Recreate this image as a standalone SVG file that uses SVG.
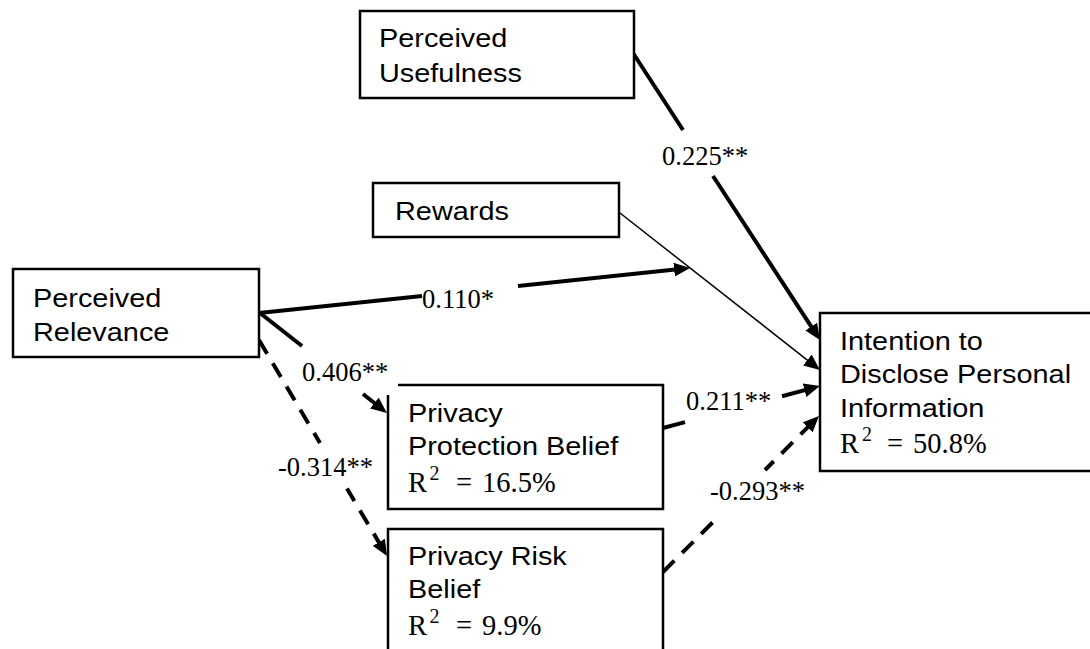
<svg xmlns="http://www.w3.org/2000/svg" width="1090" height="649" viewBox="0 0 1090 649">
  <style>
    .box { fill: #fff; stroke: #000; stroke-width: 2.5; }
    .lbl { font-family: "Liberation Sans", Arial, sans-serif; font-size: 26.5px; fill: #000; }
    .num { font-family: "Liberation Serif", "Times New Roman", serif; font-size: 26.5px; fill: #000; }
    .eq { font-family: "Liberation Serif", "Times New Roman", serif; font-size: 28.5px; fill: #000; }
    .sup { font-family: "Liberation Serif", "Times New Roman", serif; font-size: 20px; fill: #000; }
    .thick { fill: none; stroke: #000; stroke-width: 4; }
    .thin { fill: none; stroke: #000; stroke-width: 1.5; }
    .dash { stroke-dasharray: 16 11; }
  </style>
  <defs>
    <marker id="arrow" markerUnits="userSpaceOnUse" markerWidth="16" markerHeight="14" refX="6" refY="7" orient="auto">
      <path d="M0,0 L16,7 L0,14 z" fill="#000"/>
    </marker>
    <marker id="arrow-rev" markerUnits="userSpaceOnUse" markerWidth="16" markerHeight="14" refX="6" refY="7" orient="auto-start-reverse">
      <path d="M0,0 L16,7 L0,14 z" fill="#000"/>
    </marker>
  </defs>
  <rect width="1090" height="649" fill="#fff"/>

  <!-- connectors -->
  <g id="connectors">
    <!-- Perceived Usefulness -> Intention -->
    <path class="thick" d="M633,53 L683,130"/>
    <path class="thick" d="M713,176 L814.5,331.6" marker-end="url(#arrow)"/>
    <!-- Rewards -> Intention -->
    <path class="thin" d="M620,213 L812.1,363.8" marker-end="url(#arrow)"/>
    <!-- Perceived Relevance -> Rewards path (moderation) -->
    <path class="thick" d="M259,313 L422,296"/>
    <path class="thick" d="M518,286 L680.1,269" marker-end="url(#arrow)"/>
    <!-- Perceived Relevance -> Privacy Protection Belief -->
    <path class="thick" d="M260,313 L302,346"/>
    <path class="thick" d="M363,394 L379.1,406.8" marker-end="url(#arrow)"/>
    <!-- Perceived Relevance -> Privacy Risk Belief (negative) -->
    <path class="thick dash" d="M259,340 L320,443"/>
    <path class="thick dash" d="M381.9,547.4 L347,488.5" marker-start="url(#arrow-rev)"/>
    <!-- Privacy Protection Belief -> Intention -->
    <path class="thick" d="M663,428 L685,422.1"/>
    <path class="thick" d="M782,396.2 L810.3,388.6" marker-end="url(#arrow)"/>
    <!-- Privacy Risk Belief -> Intention (negative) -->
    <path class="thick dash" d="M663,572 L713,522"/>
    <path class="thick dash" d="M811.9,423.1 L765,470" marker-start="url(#arrow-rev)"/>

    <!-- path coefficients -->
    <text class="num" x="662" y="165">0.225**</text>
    <text class="num" x="422" y="308">0.110*</text>
    <text class="num" x="302" y="381">0.406**</text>
    <text class="num" x="278" y="476">-0.314**</text>
    <text class="num" x="686" y="410">0.211**</text>
    <text class="num" x="710" y="500">-0.293**</text>
  </g>

  <g id="perceived-usefulness">
    <rect class="box" x="360" y="11" width="274" height="87"/>
    <g transform="translate(379 0) scale(1.09 1) translate(-379 0)">
      <text class="lbl" x="379" y="47">Perceived</text>
      <text class="lbl" x="379" y="82">Usefulness</text>
    </g>
  </g>

  <g id="rewards">
    <rect class="box" x="373" y="183" width="246" height="54"/>
    <g transform="translate(395 0) scale(1.09 1) translate(-395 0)">
      <text class="lbl" x="395" y="220">Rewards</text>
    </g>
  </g>

  <g id="perceived-relevance">
    <rect class="box" x="13" y="269" width="246" height="88"/>
    <g transform="translate(33 0) scale(1.09 1) translate(-33 0)">
      <text class="lbl" x="33" y="307">Perceived</text>
      <text class="lbl" x="33" y="341">Relevance</text>
    </g>
  </g>

  <g id="privacy-protection-belief">
    <path d="M398,385 H663 V509 H388 V395" fill="none" stroke="#000" stroke-width="2.5"/>
    <g transform="translate(408 0) scale(1.09 1) translate(-408 0)">
      <text class="lbl" x="408" y="422">Privacy</text>
      <text class="lbl" x="408" y="455">Protection Belief</text>
    </g>
    <text class="eq" x="408" y="492">R</text>
    <text class="sup" x="429.5" y="480">2</text>
    <text class="eq" x="456" y="492">=</text>
    <text class="eq" x="482" y="492">16.5%</text>
  </g>

  <g id="privacy-risk-belief">
    <rect class="box" x="388" y="529" width="275" height="140"/>
    <g transform="translate(408 0) scale(1.09 1) translate(-408 0)">
      <text class="lbl" x="408" y="565">Privacy Risk</text>
      <text class="lbl" x="408" y="598">Belief</text>
    </g>
    <text class="eq" x="408" y="635">R</text>
    <text class="sup" x="429.5" y="623">2</text>
    <text class="eq" x="456" y="635">=</text>
    <text class="eq" x="482" y="635">9.9%</text>
  </g>

  <g id="intention-to-disclose">
    <rect class="box" x="820" y="313" width="290" height="158"/>
    <g transform="translate(840 0) scale(1.09 1) translate(-840 0)">
      <text class="lbl" x="840" y="350">Intention to</text>
      <text class="lbl" x="840" y="383">Disclose Personal</text>
      <text class="lbl" x="840" y="417">Information</text>
    </g>
    <text class="eq" x="840" y="453">R</text>
    <text class="sup" x="862" y="441">2</text>
    <text class="eq" x="887" y="453">=</text>
    <text class="eq" x="913" y="453">50.8%</text>
  </g>
</svg>
